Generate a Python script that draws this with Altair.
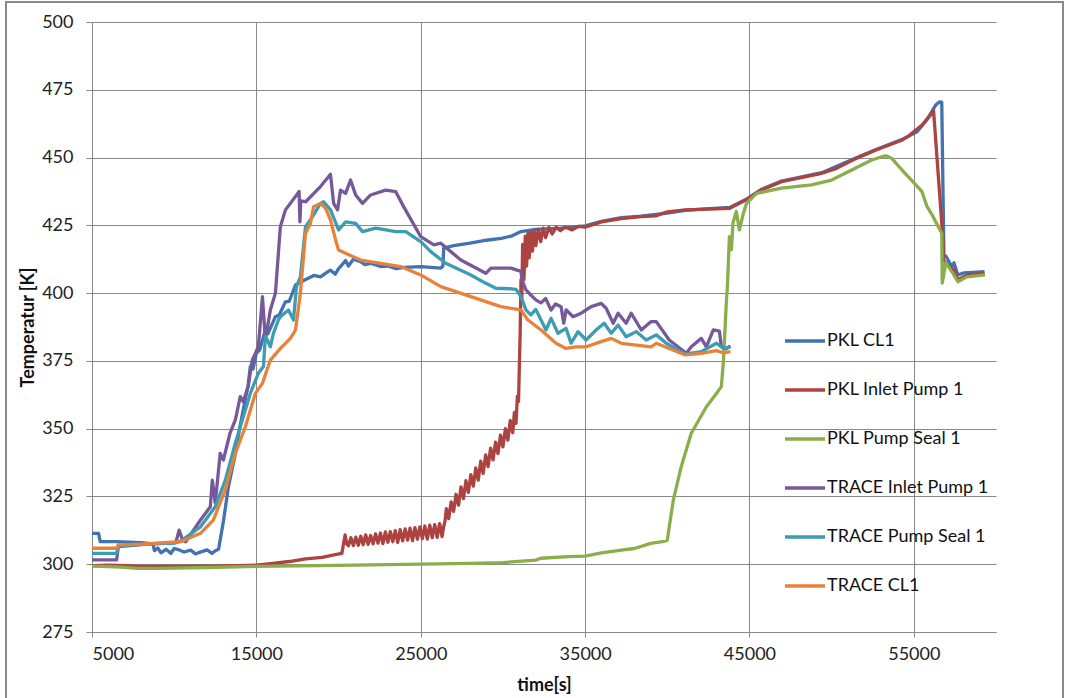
import altair as alt
import pandas as pd

FONT = "Lato"

series_names = ["\u00a0PKL CL1", "PKL Inlet Pump 1", "PKL Pump Seal 1",
                "TRACE Inlet Pump 1", "TRACE Pump Seal 1", "TRACE CL1"]
series_colors = ["#4073B0", "#AD4340", "#8BAD4B", "#76599A", "#3C9CB2", "#E8823A"]

x_ticks = [5000, 15000, 25000, 35000, 45000, 55000]
y_ticks = [275, 300, 325, 350, 375, 400, 425, 450, 475, 500]

# PKL CL1 (blue)
pkl_cl1_t = [5000, 5400, 5500, 6500, 8000, 8700, 8800, 9000, 9200, 9500, 9800, 10000, 10200, 10600, 11000,
             11300, 11500, 12000, 12300, 12500, 12700, 13000, 13300, 13700, 14000, 14300, 14500, 14630,
             14800, 15000, 15200, 15550, 15700, 16160, 16400, 16770, 17000, 17380, 17680, 18000, 18500,
             18900, 19200, 19500, 19800, 20000, 20430, 20600, 20900, 21340, 21600, 21950, 22560, 23000,
             23500, 24000, 25000, 25600, 26220, 26350, 26400, 27000, 28000, 29000, 29900, 30500, 31100,
             32000, 33500, 35000, 36000, 37200, 38400, 40000, 41100, 42100, 43800, 44800, 45700, 46950,
             49400, 51500, 52700, 54300, 55200, 55800, 56100, 56350, 56550, 56700, 56770, 56830, 56950,
             57300, 57440, 57680, 58050, 59300]
pkl_cl1_T = [311.4, 311.4, 308.3, 308.3, 308.0, 307.5, 305.0, 306.0, 304.2, 305.5, 304.0, 305.8, 305.5, 304.5,
             305.2, 303.8, 304.3, 305.3, 304.0, 305.0, 305.5, 316.0, 328.6, 340.0, 350.7, 360.0, 366.0,
             372.9, 372.0, 377.9, 379.0, 386.4, 385.0, 391.3, 392.0, 396.8, 397.0, 403.0, 404.0, 405.0,
             406.5, 406.0, 407.3, 408.5, 407.0, 409.0, 412.0, 410.0, 412.5, 411.6, 410.5, 411.0, 409.8,
             410.0, 409.0, 409.5, 409.8, 409.5, 409.2, 410.0, 416.6, 417.5, 418.4, 419.5, 420.2, 421.0,
             422.7, 423.5, 424.0, 424.8, 426.5, 427.8, 428.4, 429.5, 430.5, 431.0, 431.6, 434.6, 438.2,
             441.3, 444.4, 449.9, 453.0, 456.7, 459.5, 464.0, 467.0, 469.5, 470.5, 470.4, 440.0, 414.0,
             413.7, 409.8, 411.2, 406.7, 407.5, 407.9]

# PKL Inlet Pump 1 (red) - noisy band read as an alternating envelope
pkl_inlet_t = [5000, 6000, 7000, 8000, 10000, 12000, 14000, 15000, 16000, 17000, 18000, 19000, 19800, 20200,
               20400, 20500,
               20600, 20750, 20900, 21050, 21200, 21350, 21500, 21650, 21800, 21950, 22100, 22250, 22400,
               22550, 22700, 22850, 23000, 23150, 23300, 23450, 23600, 23750, 23900, 24050, 24200, 24350,
               24500, 24650, 24800, 24950, 25100, 25250, 25400, 25550, 25700, 25850, 26000, 26150, 26300,
               26400, 26480, 26560,
               26700, 26850, 27000, 27150, 27300, 27450, 27600, 27750, 27900, 28050, 28200, 28350, 28500,
               28650, 28800, 28950, 29100, 29250, 29400, 29550, 29700, 29850, 30000, 30150, 30300, 30450,
               30600, 30700, 30800, 30880, 30950, 31000, 31050, 31100, 31150, 31200, 31280, 31360, 31440,
               31520, 31600, 31700, 31800, 31900, 32000, 32150, 32300, 32450, 32600, 32800, 33000, 33250,
               33500, 33800, 34200, 34600, 35000,
               36000, 37200, 38400, 39300, 40000, 41100, 42100, 43800, 44800, 45700, 46950, 49400, 50300,
               51500, 52700, 54300, 54700, 55500, 56100, 56200, 56770, 56800, 56950, 57440, 57680, 58230,
               59300]
pkl_inlet_T = [299.5, 299.7, 299.5, 299.2, 299.2, 299.3, 299.5, 299.7, 300.3, 301.0, 302.0, 302.5, 303.5, 304.0,
               310.8, 307.5,
               306.8, 309.8, 306.9, 310.0, 307.0, 310.3, 307.2, 310.8, 307.3, 310.6, 307.5, 311.2, 307.8,
               311.5, 307.6, 311.9, 308.1, 312.0, 308.3, 312.4, 308.0, 312.8, 308.6, 313.0, 308.9, 313.3,
               308.7, 313.5, 309.2, 313.8, 309.4, 314.1, 309.3, 314.4, 309.8, 314.6, 309.9, 315.0, 310.2,
               314.0, 316.0, 320.5,
               316.8, 323.0, 319.5, 325.8, 321.8, 328.5, 324.2, 330.8, 326.5, 333.0, 328.8, 335.5, 331.0,
               338.0, 333.5, 340.3, 336.0, 342.8, 338.5, 345.0, 340.8, 347.6, 343.3, 350.0, 345.8, 353.0,
               348.5, 356.0, 352.0, 362.0, 360.0, 372.9, 385.0, 405.0, 398.0, 418.0, 405.0, 421.0, 410.0,
               422.0, 413.0, 422.5, 415.5, 423.0, 417.5, 423.5, 419.0, 424.0, 420.5, 424.2, 421.8, 424.3,
               423.0, 424.4, 423.3, 424.6, 424.3,
               426.3, 427.5, 428.2, 428.5, 430.0, 430.7, 430.9, 431.3, 434.4, 438.0, 441.1, 444.2, 446.0,
               449.7, 452.8, 456.5, 458.0, 462.0, 466.3, 467.4, 420.0, 412.2, 411.0, 408.5, 404.9, 406.7,
               407.3]

# PKL Pump Seal 1 (green)
pkl_seal_t = [5000, 6500, 7800, 9000, 12000, 15000, 20000, 25000, 28000, 30000, 32000, 32300, 34000, 35000,
              36000, 37200, 38000, 39000, 39700, 40000, 40060, 40370, 40850, 41460, 42380, 42990, 43290,
              43420, 43600, 43660, 43780, 43900, 44000, 44200, 44390, 44630, 44820, 45430, 46950, 48780,
              50000, 51220, 52440, 53050, 53350, 53660, 54270, 55490, 55800, 56100, 56400, 56700, 56730,
              56950, 57380, 57680, 58230, 59330]
pkl_seal_T = [299.3, 299.0, 298.5, 298.5, 298.8, 299.2, 299.6, 300.0, 300.3, 300.6, 301.5, 302.2, 302.8, 303.0,
              304.2, 305.2, 305.8, 307.7, 308.3, 308.8, 311.4, 323.7, 336.0, 348.3, 358.1, 363.0, 365.5,
              375.3, 397.5, 402.4, 420.8, 416.0, 426.0, 430.1, 423.3, 429.4, 433.1, 436.8, 438.7, 439.9,
              441.7, 445.4, 449.1, 450.3, 450.6, 449.7, 445.5, 437.5, 432.0, 429.0, 425.5, 422.1, 403.7,
              411.2, 407.3, 404.2, 406.0, 406.7]

# TRACE Inlet Pump 1 (purple)
trace_inlet_t = [5000, 6500, 6600, 7500, 8500, 9500, 10100, 10300, 10500, 10700, 11600, 12200, 12320, 12500,
                 12800, 12990, 13400, 13720, 14020, 14200, 14500, 14750, 15120, 15370, 15550, 15850, 16160,
                 16460, 16770, 17380, 17600, 17650, 17700, 18000, 18900, 19400, 19510, 19700, 19940, 20120,
                 20430, 20730, 21040, 21460, 21950, 22870, 23480, 23960, 25000, 25800, 26220, 26830, 27440,
                 28960, 29270, 30490, 31100, 31160, 31400, 31700, 32000, 32320, 32600, 32930, 33200, 33540,
                 33700, 33850, 34270, 34760, 35370, 35980, 36280, 36710, 37010, 37500, 37800, 38420, 39020,
                 39330, 40120, 41160, 41460, 42070, 42380, 42800, 43170, 43290, 43600, 43840]
trace_inlet_T = [301.6, 301.6, 306.5, 307.0, 307.5, 307.8, 308.0, 312.6, 309.0, 308.3, 316.3, 321.2, 331.0, 322.6,
                 340.9, 338.4, 348.4, 353.2, 361.8, 360.0, 365.5, 375.3, 380.2, 398.7, 382.7, 393.8, 400.0,
                 424.5, 430.7, 435.6, 437.5, 426.3, 434.0, 433.7, 439.3, 443.0, 443.8, 433.1, 430.7, 438.0,
                 436.8, 441.7, 436.2, 433.1, 436.2, 438.0, 437.4, 431.9, 420.8, 417.8, 418.4, 415.3, 412.2,
                 407.3, 409.2, 409.2, 408.0, 404.9, 401.2, 399.3, 397.5, 396.4, 398.0, 393.8, 396.0, 395.0,
                 388.9, 393.8, 391.3, 392.6, 395.0, 396.2, 394.4, 388.9, 392.6, 388.9, 392.6, 386.4, 389.5,
                 389.5, 382.7, 377.8, 380.2, 383.3, 380.2, 386.4, 386.0, 380.2, 379.5, 380.5]

# TRACE Pump Seal 1 (teal)
trace_seal_t = [5000, 6500, 6600, 8000, 10000, 10400, 11600, 12500, 13110, 13720, 14330, 14630, 15120, 15430,
                15550, 15670, 15850, 16040, 16340, 16460, 16950, 17260, 17440, 17680, 17990, 18420, 18900,
                19090, 19510, 20000, 20430, 21040, 21460, 22260, 23480, 24090, 25000, 25610, 26520, 28050,
                28960, 29570, 30490, 30800, 31100, 31400, 31700, 32000, 32320, 32620, 32930, 33350, 33840,
                34150, 34570, 35060, 35670, 36160, 36590, 37010, 37500, 38110, 38720, 39330, 39940, 41100,
                42070, 42990, 43410, 43840]
trace_seal_T = [304.0, 304.0, 306.8, 307.3, 307.8, 308.5, 313.8, 321.2, 331.0, 344.6, 356.9, 363.0, 370.4, 372.9,
                384.0, 382.7, 380.2, 385.2, 390.1, 391.3, 393.8, 390.1, 402.4, 406.0, 424.5, 428.2, 433.1,
                433.7, 430.7, 423.3, 426.3, 425.7, 422.7, 424.0, 422.7, 422.7, 419.0, 415.3, 411.0, 406.7,
                403.6, 401.8, 401.6, 401.4, 398.7, 393.8, 392.0, 394.0, 390.1, 386.4, 390.7, 385.2, 387.0,
                381.5, 385.8, 382.7, 386.4, 388.9, 385.2, 388.2, 383.9, 385.8, 382.7, 384.6, 381.5, 377.5,
                378.4, 381.5, 379.6, 380.2]

# TRACE CL1 (orange)
trace_cl1_t = [5000, 6500, 6600, 8000, 10400, 11600, 12380, 13110, 13720, 14330, 14940, 15370, 15850, 16460,
               17070, 17380, 17680, 17990, 18290, 18480, 18900, 19210, 19510, 19820, 20000, 20430, 21340,
               22560, 23780, 25000, 26220, 28050, 29880, 31100, 31520, 32320, 33230, 33840, 34450, 35060,
               35980, 36590, 37200, 38110, 39020, 39330, 41100, 42070, 42990, 43410, 43840]
trace_cl1_T = [305.9, 305.9, 307.1, 307.4, 308.3, 311.4, 316.3, 327.4, 340.9, 350.7, 363.0, 366.7, 375.3, 379.6,
               383.3, 386.4, 400.0, 422.1, 425.7, 431.9, 433.1, 431.3, 427.0, 419.6, 415.9, 414.7, 412.2,
               411.0, 409.8, 406.7, 402.4, 398.7, 395.0, 393.8, 390.1, 386.4, 381.5, 379.6, 380.2, 380.2,
               382.1, 383.3, 381.5, 380.8, 380.2, 381.5, 377.2, 377.8, 378.8, 378.0, 378.4]

all_series = [
    (series_names[0], pkl_cl1_t, pkl_cl1_T),
    (series_names[1], pkl_inlet_t, pkl_inlet_T),
    (series_names[2], pkl_seal_t, pkl_seal_T),
    (series_names[3], trace_inlet_t, trace_inlet_T),
    (series_names[4], trace_seal_t, trace_seal_T),
    (series_names[5], trace_cl1_t, trace_cl1_T),
]

rows = []
for name, ts, Ts in all_series:
    for i, (t, T) in enumerate(zip(ts, Ts)):
        rows.append({"series": name, "time": t, "temp": T, "idx": i})
df = pd.DataFrame(rows)

W, H = 904, 610
PAD = {"left": 92, "top": 22, "right": 69, "bottom": 66}

frame = alt.Chart(pd.DataFrame({"k": [0]})).mark_rect(
    fill="white", fillOpacity=0, stroke="#8a8a8a", strokeWidth=2, clip=False
).encode(
    x=alt.value(-86), x2=alt.value(971), y=alt.value(-20), y2=alt.value(700)
)

lines = alt.Chart(df).mark_line(strokeWidth=3.3, clip=True, strokeJoin="round").encode(
    x=alt.X("time:Q",
            scale=alt.Scale(domain=[5000, 60000], nice=False, zero=False),
            axis=alt.Axis(values=x_ticks, format="d", title="time[s]", grid=True,
                          tickSize=5, labelPadding=8, titlePadding=13)),
    y=alt.Y("temp:Q",
            scale=alt.Scale(domain=[275, 500], nice=False, zero=False),
            axis=alt.Axis(values=y_ticks, format="d", title="Temperatur [K]", grid=True,
                          tickSize=6, labelPadding=13, titlePadding=4)),
    color=alt.Color("series:N",
                    scale=alt.Scale(domain=series_names, range=series_colors),
                    legend=alt.Legend(orient="none", legendX=691, legendY=297, title=None,
                                      direction="vertical", symbolType="stroke",
                                      symbolSize=1600, symbolStrokeWidth=3.3,
                                      labelFontSize=18, labelFont=FONT, labelColor="#111111",
                                      labelOffset=0, rowPadding=18, padding=0,
                                      labelLimit=300)),
    order="idx:Q",
)

chart = alt.layer(frame, lines).properties(
    width=W, height=H, padding=PAD,
    autosize=alt.AutoSizeParams(type="none"),
    background="white",
).configure_view(strokeWidth=0).configure_axis(
    gridColor="#898989", gridWidth=1, domainColor="#898989", tickColor="#898989",
    labelFont=FONT, labelFontSize=18, labelColor="#222222",
    titleFont=FONT, titleFontSize=18, titleFontWeight="bold", titleColor="#111111",
)

chart.save("out.html", embed_options={"renderer": "svg", "actions": False})
